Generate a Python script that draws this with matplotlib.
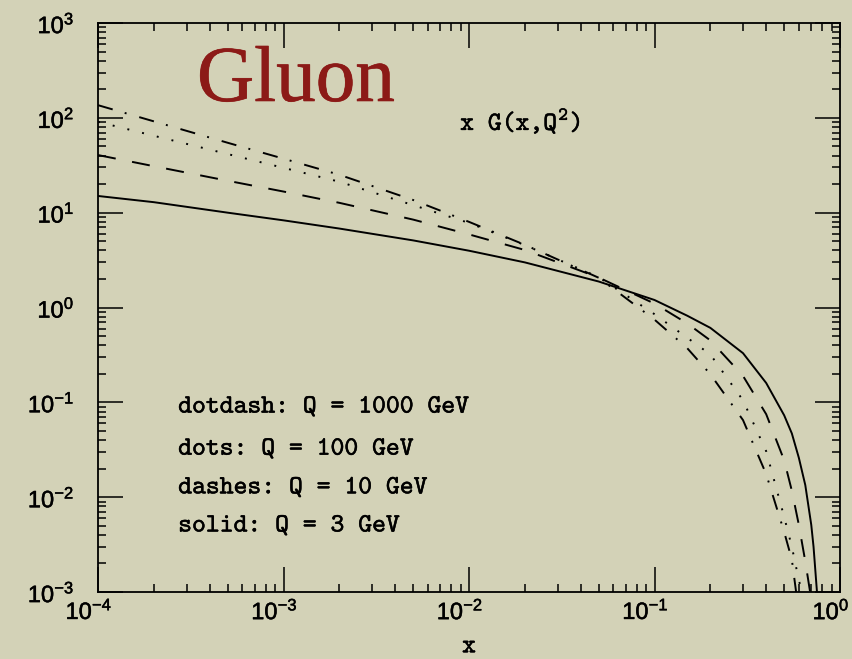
import matplotlib
matplotlib.use("Agg")
import matplotlib.pyplot as plt
import matplotlib.patheffects as pe
from matplotlib import font_manager
from matplotlib.transforms import ScaledTranslation
from matplotlib.ticker import LogLocator, FixedFormatter, FixedLocator, NullFormatter

# data (x, x*G(x,Q^2))
x_common = [1e-4, 2e-4, 5e-4, 1e-3, 2e-3, 5e-3, 1e-2, 2e-2, 5e-2, 0.1, 0.15, 0.2, 0.3, 0.4, 0.5]

solid_x = x_common + [0.55, 0.6, 0.65, 0.7, 0.72, 0.75, 0.77]
solid_y = [15.0, 12.9, 10.0, 8.3, 6.8, 5.1, 3.97, 2.99, 1.88, 1.20, 0.82, 0.61, 0.33, 0.16, 0.073,
           0.047, 0.026, 0.0134, 0.0051, 0.003, 0.00105, 0.0006]

dashes_x = x_common + [0.55, 0.6, 0.65, 0.69, 0.7]
dashes_y = [40.5, 30.9, 21.7, 16.7, 12.7, 8.45, 5.9, 4.04, 2.07, 1.10, 0.68, 0.45, 0.19, 0.075, 0.0245,
            0.0117, 0.0051, 0.0021, 0.001, 0.0008]

dots_x = x_common + [0.55, 0.6, 0.625, 0.64]
dots_y = [90.8, 64.7, 41.5, 29.7, 21.2, 12.0, 7.8, 4.55, 2.09, 0.85, 0.48, 0.32, 0.105, 0.0305, 0.0062,
          0.003, 0.00133, 0.001, 0.0007]

dotdash_x = x_common + [0.55, 0.58, 0.6]
dotdash_y = [136, 91.8, 54.6, 37.1, 25.1, 13.6, 8.0, 4.58, 2.06, 0.745, 0.373, 0.198, 0.065, 0.0175, 0.0043,
             0.0022, 0.001, 0.0007]

legend_lines = ["dotdash: Q = 1000 GeV", "dots: Q = 100 GeV", "dashes: Q = 10 GeV", "solid: Q = 3 GeV"]
x_decades = [-4, -3, -2, -1, 0]
y_decades = [-3, -2, -1, 0, 1, 2, 3]

# typewriter font (matplotlib ships cmtt10)
names = set(f.name for f in font_manager.fontManager.ttflist)
mono = "cmtt10" if "cmtt10" in names else "DejaVu Sans Mono"

plt.rcParams['font.family'] = [mono, 'DejaVu Sans']
plt.rcParams['mathtext.default'] = 'regular'
plt.rcParams['axes.unicode_minus'] = True
plt.rcParams['lines.scale_dashes'] = False

thick = [pe.withStroke(linewidth=0.35, foreground='black')]

bg = '#d3d2b7'
fig = plt.figure(figsize=(8.52, 6.59), dpi=100, facecolor=bg)
ax = fig.add_axes([98/852, 1-592/659, 742/852, 569/659])
ax.set_facecolor(bg)
ax.set_xscale('log')
ax.set_yscale('log')

lw = 1.4
ax.plot(solid_x, solid_y, color='black', lw=lw, linestyle='-')
ax.plot(dashes_x, dashes_y, color='black', lw=lw, linestyle=(0, (13, 12)))
ax.plot(dots_x, dots_y, color='black', lw=lw, linestyle=(0, (1.4, 9.5)))
ax.plot(dotdash_x, dotdash_y, color='black', lw=lw, linestyle=(0, (11, 9, 1.4, 9.5)))

ax.set_xlim(1e-4, 1)
ax.set_ylim(1e-3, 1e3)

ax.xaxis.set_major_locator(FixedLocator([10.0**e for e in x_decades]))
ax.xaxis.set_major_formatter(FixedFormatter(["10$^{%d}$" % e for e in x_decades]))
ax.yaxis.set_major_locator(FixedLocator([10.0**e for e in y_decades]))
ax.yaxis.set_major_formatter(FixedFormatter(["10$^{%d}$" % e for e in y_decades]))
ax.xaxis.set_minor_locator(LogLocator(base=10, subs=range(2, 10), numticks=20))
ax.yaxis.set_minor_locator(LogLocator(base=10, subs=range(2, 10), numticks=20))
ax.xaxis.set_minor_formatter(NullFormatter())
ax.yaxis.set_minor_formatter(NullFormatter())

ax.tick_params(which='both', direction='in', top=True, right=True, width=1.1, colors='black')
ax.tick_params(which='major', length=18, labelsize=17)
ax.tick_params(which='minor', length=6)
ax.tick_params(axis='y', which='major', pad=17)
ax.tick_params(axis='x', which='major', pad=5)
for s in ax.spines.values():
    s.set_linewidth(1.3)

# tick labels in a helvetica-like face; x labels sit a little left of their ticks
shift = ScaledTranslation(-9/100, 0, fig.dpi_scale_trans)
for lab in ax.get_xticklabels():
    lab.set_family('Liberation Sans')
    lab.set_path_effects(thick)
    lab.set_transform(lab.get_transform() + shift)
for lab in ax.get_yticklabels():
    lab.set_family('Liberation Sans')
    lab.set_path_effects(thick)

ax.set_xlabel("x", fontsize=19, labelpad=8, path_effects=thick)

ax.text(0.1334, 0.863, "Gluon", transform=ax.transAxes, fontsize=57,
        family='Liberation Serif', color='#8c1a17', ha='left', va='baseline',
        path_effects=[pe.withStroke(linewidth=0.5, foreground='#8c1a17')])
ax.text(0.488, 0.812, "x G(x,Q$^2$)", transform=ax.transAxes, fontsize=19,
        ha='left', va='baseline', path_effects=thick)

leg_y = [0.325, 0.251, 0.183, 0.116]
for t, yy in zip(legend_lines, leg_y):
    ax.text(0.108, yy, t, transform=ax.transAxes, fontsize=19, ha='left', va='center',
            path_effects=thick)

fig.savefig("out.png", dpi=100, facecolor=bg)
